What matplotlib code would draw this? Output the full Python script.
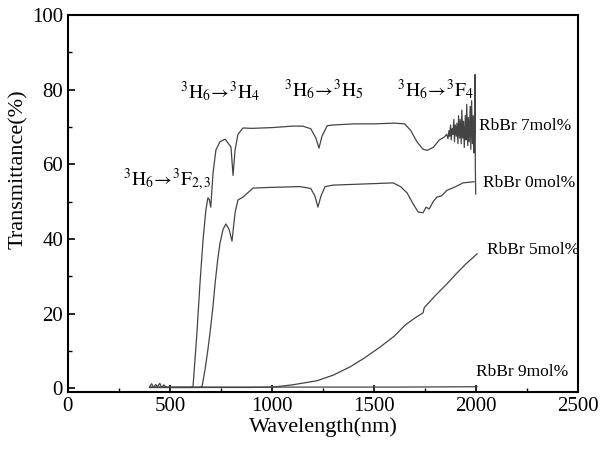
import matplotlib
matplotlib.use("Agg")
import matplotlib.pyplot as plt
from matplotlib.ticker import MultipleLocator

# RbBr 7mol%
wl_7 = [400, 410, 420, 430, 440, 450, 460, 470, 480, 500, 550, 600, 613, 632, 647, 662, 676, 686,
        693, 700, 711, 725, 745, 770, 799, 809, 819, 833, 858, 900, 1000, 1100, 1150, 1190, 1215,
        1230, 1245, 1270, 1300, 1400, 1500, 1600, 1650, 1680, 1710, 1740, 1760, 1790, 1820, 1845,
        1856, 1862, 1867, 1870, 1875, 1878, 1883, 1886, 1891, 1894, 1898, 1903, 1906, 1911, 1914,
        1919, 1922, 1927, 1930, 1935, 1938, 1942, 1947, 1950, 1954, 1959, 1962, 1966, 1971, 1974,
        1978, 1982, 1986, 1990, 1993, 1995, 1996, 1998]
t_7 = [0.3, 1.2, 0.2, 1.0, 0.4, 1.3, 0.2, 0.9, 0.3, 0.2, 0.2, 0.2, 0.5, 14.7, 28, 39.7, 47.7, 51,
       50.5, 48.5, 57.6, 63.8, 66, 66.7, 64.6, 57, 63.8, 68, 69.7, 69.6, 69.8, 70.2, 70.2, 69.5, 67,
       64.3, 67.5, 70.3, 70.5, 70.8, 70.8, 71, 70.8, 69, 66, 64, 63.7, 64.5, 66.5, 67.3,
       68, 66.8, 69, 67.5, 70.5, 66.5, 69.5, 68, 72, 66, 70.5, 67.5, 71, 65.5, 73,
       67, 72, 65.5, 74.5, 67, 71.5, 64.5, 73, 66.5, 76, 65, 72.5, 66, 75.5, 64,
       77, 65.5, 73, 63, 70, 84, 60, 52]

# RbBr 0mol%
wl_0 = [400, 500, 600, 640, 657, 672, 685, 696, 710, 721, 733, 745, 760, 774, 790, 804, 812, 819,
        833, 858, 907, 1000, 1137, 1190, 1210, 1225, 1240, 1260, 1300, 1400, 1500, 1593, 1630,
        1662, 1690, 1716, 1740, 1755, 1770, 1790, 1808, 1830, 1857, 1900, 1936, 1990]
t_0 = [0.2, 0.2, 0.2, 0.2, 0.4, 5, 10, 14.7, 21.5, 28, 34, 38.8, 42.5, 44, 42.5, 39.4, 43.5, 47,
       50.4, 51.2, 53.6, 53.8, 54, 53.5, 51.5, 48.5, 51.5, 54, 54.4, 54.6, 54.8, 55, 54,
       52.3, 49.5, 47.2, 47, 48.5, 48, 50, 51.2, 51.5, 53, 54, 55, 55.3]

# RbBr 5mol%
wl_5 = [400, 600, 800, 900, 1005, 1100, 1220, 1300, 1382, 1450, 1529, 1600, 1652, 1700, 1740,
        1746, 1800, 1858, 1900, 1950, 2005]
t_5 = [0.2, 0.2, 0.2, 0.2, 0.3, 0.9, 2.0, 3.5, 5.7, 8, 11, 14, 16.9, 18.8, 20.2,
       21.6, 24.8, 28, 30.5, 33.3, 36]

# RbBr 9mol%
wl_9 = [400, 800, 1200, 1600, 2005]
t_9 = [0.3, 0.3, 0.3, 0.3, 0.4]

series = [(wl_7, t_7), (wl_0, t_0), (wl_5, t_5), (wl_9, t_9)]

curve_labels = ["RbBr 7mol%", "RbBr 0mol%", "RbBr 5mol%", "RbBr 9mol%"]
curve_label_pos = [(2015, 70.2), (2034, 55), (2054, 37), (2000, 4.3)]

transitions = [r"$\mathrm{^3H_6}\!\rightarrow\!\mathrm{^3F_{2,3}}$",
               r"$\mathrm{^3H_6}\!\rightarrow\!\mathrm{^3H_4}$",
               r"$\mathrm{^3H_6}\!\rightarrow\!\mathrm{^3H_5}$",
               r"$\mathrm{^3H_6}\!\rightarrow\!\mathrm{^3F_4}$"]
transition_pos = [(488, 56), (745, 79.5), (1255, 80), (1800, 80)]

plt.rcParams['font.family'] = 'Liberation Serif'
plt.rcParams['mathtext.fontset'] = 'stix'

fig = plt.figure(figsize=(6.01, 4.5), dpi=100)
ax = fig.add_axes([0.113, 0.129, 0.849, 0.838])

for wl, t in series:
    ax.plot(wl, t, color='#444444', lw=0.9)

for lab, (x, y) in zip(curve_labels, curve_label_pos):
    ax.text(x, y, lab, fontsize=12.5, va='center', ha='left')

for lab, (x, y) in zip(transitions, transition_pos):
    ax.text(x, y, lab, fontsize=14, va='center', ha='center')

ax.set_xlim(0, 2500)
ax.set_ylim(-1, 100)
ax.xaxis.set_major_locator(MultipleLocator(500))
ax.xaxis.set_minor_locator(MultipleLocator(250))
ax.yaxis.set_major_locator(MultipleLocator(20))
ax.yaxis.set_minor_locator(MultipleLocator(10))
ax.tick_params(which='both', direction='in', top=False, right=False, labelsize=15)
ax.tick_params(which='major', length=5, width=1.2)
ax.tick_params(which='minor', length=3, width=1.0)
for s in ax.spines.values():
    s.set_linewidth(1.5)

ax.set_xlabel("Wavelength(nm)", fontsize=16, labelpad=1)
ax.set_ylabel("Transmittance(%)", fontsize=16)
ax.yaxis.set_label_coords(-0.078, 0.59)

fig.savefig("out.png", dpi=100)
